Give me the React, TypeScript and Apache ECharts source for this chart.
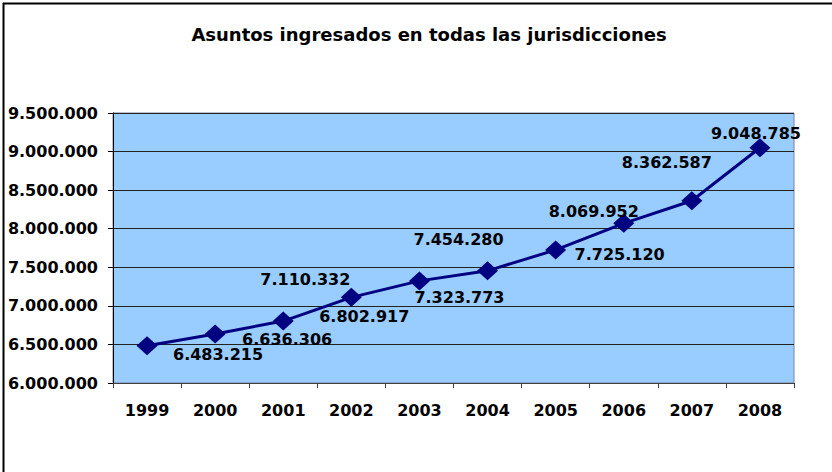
import React, { useEffect, useRef } from "react";
import * as echarts from "echarts";

const categories = ["1999", "2000", "2001", "2002", "2003", "2004", "2005", "2006", "2007", "2008"];
const values = [6483215, 6636306, 6802917, 7110332, 7323773, 7454280, 7725120, 8069952, 8362587, 9048785];
const yTicks = { min: 6000000, max: 9500000, interval: 500000 };
// label offsets [dx, dy] in pixels relative to the point (styling only)
const labelOffsets: number[][] = [
  [71, 9], [72, 6], [81, -5], [-46, -18], [40, 17],
  [-29, -31], [64, 5], [-30, -12], [-25, -38], [-4, -14],
];

const fmt = (v: number) => String(Math.round(v)).replace(/\B(?=(\d{3})+(?!\d))/g, ".");
const FONT = "DejaVu Sans";

export default function App() {
  const ref = useRef<HTMLDivElement>(null);
  useEffect(() => {
    if (!ref.current) return;
    const chart = echarts.init(ref.current, undefined, { renderer: "svg" });
    chart.setOption({
      animation: false,
      backgroundColor: "#ffffff",
      title: {
        text: "Asuntos ingresados en todas las jurisdicciones",
        left: 424,
        textAlign: "center",
        top: 20,
        textStyle: { fontFamily: FONT, fontWeight: "bold", fontSize: 18, color: "#000" },
      },
      grid: {
        left: 113,
        right: 38,
        top: 113,
        bottom: 89,
        show: true,
        backgroundColor: "#99CCFF",
        borderColor: "#7f7f9f",
        borderWidth: 1,
      },
      xAxis: {
        type: "category",
        data: categories,
        boundaryGap: true,
        axisLine: { lineStyle: { color: "#404040", width: 1 } },
        axisTick: { show: true, alignWithLabel: false, length: 5, lineStyle: { color: "#404040" } },
        axisLabel: { margin: 19, fontFamily: FONT, fontWeight: "bold", fontSize: 16, color: "#000" },
        splitLine: { show: false },
      },
      yAxis: {
        type: "value",
        min: yTicks.min,
        max: yTicks.max,
        interval: yTicks.interval,
        axisLine: { show: true, lineStyle: { color: "#000", width: 1 } },
        axisTick: { show: true, length: 5, lineStyle: { color: "#000" } },
        axisLabel: {
          margin: 15,
          fontFamily: FONT,
          fontWeight: "bold",
          fontSize: 16,
          color: "#000",
          formatter: (v: number) => fmt(v),
        },
        splitLine: { show: true, lineStyle: { color: "#222", width: 1 } },
      },
      series: [
        {
          type: "line",
          data: values.map((v, i) => ({
            value: v,
            label: { offset: labelOffsets[i] },
          })),
          lineStyle: { color: "#000080", width: 3 },
          itemStyle: { color: "#000080" },
          symbol: "diamond",
          symbolSize: [21, 19],
          label: {
            show: true,
            position: "inside",
            fontFamily: FONT,
            fontWeight: "bold",
            fontSize: 16,
            color: "#000",
            formatter: (p: any) => fmt(p.value),
          },
        },
      ],
      graphic: [
        { type: "line", shape: { x1: 3.5, y1: 3, x2: 3.5, y2: 472 }, style: { stroke: "#000", lineWidth: 2 } },
        { type: "line", shape: { x1: 3, y1: 3.5, x2: 832, y2: 3.5 }, style: { stroke: "#000", lineWidth: 2 } },
      ],
    });
    return () => chart.dispose();
  }, []);
  return <div ref={ref} style={{ width: 832, height: 472, position: "absolute", left: 0, top: 0 }} />;
}
